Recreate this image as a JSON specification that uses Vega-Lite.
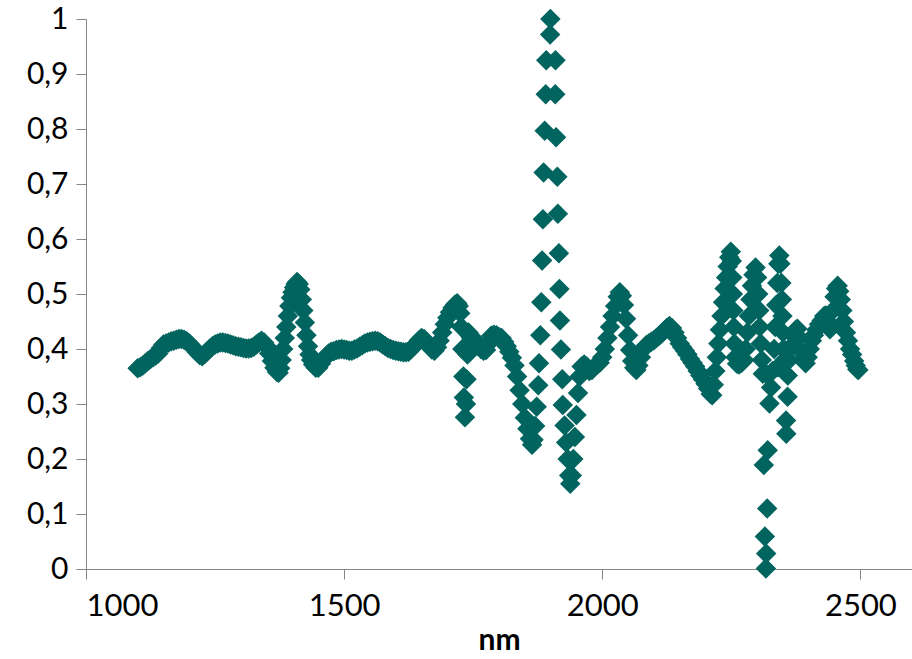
{
  "$schema": "https://vega.github.io/schema/vega-lite/v6.json",
  "width": 826,
  "height": 550,
  "autosize": {"type": "none"},
  "padding": {"left": 86, "top": 19, "right": 0, "bottom": 90},
  "background": "white",
  "config": {"view": {"stroke": null}},
  "data": {"values": [
    {"nm":1100,"r":0.365},{"nm":1105,"r":0.367},{"nm":1110,"r":0.37},{"nm":1115,"r":0.374},{"nm":1120,"r":0.378},{"nm":1125,"r":0.382},{"nm":1130,"r":0.385},{"nm":1135,"r":0.388},{"nm":1140,"r":0.392},{"nm":1145,"r":0.402},{"nm":1150,"r":0.408},{"nm":1155,"r":0.41},{"nm":1160,"r":0.412},{"nm":1165,"r":0.414},{"nm":1170,"r":0.415},{"nm":1175,"r":0.417},{"nm":1180,"r":0.418},{"nm":1185,"r":0.418},{"nm":1190,"r":0.417},{"nm":1195,"r":0.414},{"nm":1200,"r":0.41},{"nm":1205,"r":0.405},{"nm":1210,"r":0.4},{"nm":1215,"r":0.394},{"nm":1220,"r":0.389},{"nm":1225,"r":0.387},{"nm":1230,"r":0.391},{"nm":1235,"r":0.396},{"nm":1240,"r":0.401},{"nm":1245,"r":0.405},{"nm":1250,"r":0.408},{"nm":1255,"r":0.41},{"nm":1260,"r":0.412},{"nm":1265,"r":0.412},{"nm":1270,"r":0.411},{"nm":1275,"r":0.41},{"nm":1280,"r":0.408},{"nm":1285,"r":0.407},{"nm":1290,"r":0.405},{"nm":1295,"r":0.404},{"nm":1300,"r":0.403},{"nm":1305,"r":0.402},{"nm":1310,"r":0.401},{"nm":1315,"r":0.401},{"nm":1320,"r":0.402},{"nm":1325,"r":0.404},{"nm":1330,"r":0.408},{"nm":1335,"r":0.412},{"nm":1340,"r":0.415},{"nm":1345,"r":0.412},{"nm":1350,"r":0.405},{"nm":1355,"r":0.392},{"nm":1360,"r":0.378},{"nm":1365,"r":0.366},{"nm":1370,"r":0.358},{"nm":1373,"r":0.357},{"nm":1376,"r":0.365},{"nm":1379,"r":0.38},{"nm":1382,"r":0.4},{"nm":1385,"r":0.42},{"nm":1388,"r":0.44},{"nm":1391,"r":0.46},{"nm":1394,"r":0.478},{"nm":1397,"r":0.493},{"nm":1400,"r":0.503},{"nm":1403,"r":0.512},{"nm":1406,"r":0.518},{"nm":1409,"r":0.522},{"nm":1412,"r":0.518},{"nm":1415,"r":0.508},{"nm":1418,"r":0.49},{"nm":1421,"r":0.47},{"nm":1424,"r":0.448},{"nm":1427,"r":0.425},{"nm":1430,"r":0.405},{"nm":1433,"r":0.39},{"nm":1436,"r":0.38},{"nm":1440,"r":0.372},{"nm":1445,"r":0.366},{"nm":1450,"r":0.366},{"nm":1455,"r":0.373},{"nm":1460,"r":0.381},{"nm":1465,"r":0.387},{"nm":1470,"r":0.392},{"nm":1475,"r":0.395},{"nm":1480,"r":0.396},{"nm":1485,"r":0.398},{"nm":1490,"r":0.399},{"nm":1495,"r":0.4},{"nm":1500,"r":0.399},{"nm":1505,"r":0.398},{"nm":1510,"r":0.397},{"nm":1515,"r":0.397},{"nm":1520,"r":0.399},{"nm":1525,"r":0.401},{"nm":1530,"r":0.404},{"nm":1535,"r":0.407},{"nm":1540,"r":0.41},{"nm":1545,"r":0.412},{"nm":1550,"r":0.413},{"nm":1555,"r":0.414},{"nm":1560,"r":0.415},{"nm":1565,"r":0.414},{"nm":1570,"r":0.412},{"nm":1575,"r":0.408},{"nm":1580,"r":0.405},{"nm":1585,"r":0.402},{"nm":1590,"r":0.4},{"nm":1595,"r":0.398},{"nm":1600,"r":0.397},{"nm":1605,"r":0.396},{"nm":1610,"r":0.395},{"nm":1615,"r":0.394},{"nm":1620,"r":0.394},{"nm":1625,"r":0.395},{"nm":1630,"r":0.4},{"nm":1635,"r":0.405},{"nm":1640,"r":0.41},{"nm":1645,"r":0.416},{"nm":1650,"r":0.42},{"nm":1655,"r":0.418},{"nm":1660,"r":0.412},{"nm":1665,"r":0.405},{"nm":1670,"r":0.399},{"nm":1675,"r":0.397},{"nm":1680,"r":0.403},{"nm":1685,"r":0.415},{"nm":1690,"r":0.43},{"nm":1695,"r":0.445},{"nm":1700,"r":0.457},{"nm":1705,"r":0.467},{"nm":1710,"r":0.475},{"nm":1715,"r":0.481},{"nm":1719,"r":0.483},{"nm":1722,"r":0.478},{"nm":1725,"r":0.465},{"nm":1727,"r":0.44},{"nm":1729,"r":0.4},{"nm":1731,"r":0.35},{"nm":1732,"r":0.312},{"nm":1734,"r":0.276},{"nm":1736,"r":0.3},{"nm":1737,"r":0.345},{"nm":1739,"r":0.39},{"nm":1741,"r":0.43},{"nm":1743,"r":0.425},{"nm":1746,"r":0.42},{"nm":1750,"r":0.417},{"nm":1755,"r":0.415},{"nm":1760,"r":0.408},{"nm":1765,"r":0.4},{"nm":1770,"r":0.397},{"nm":1775,"r":0.398},{"nm":1780,"r":0.41},{"nm":1785,"r":0.424},{"nm":1790,"r":0.426},{"nm":1795,"r":0.425},{"nm":1800,"r":0.422},{"nm":1805,"r":0.42},{"nm":1810,"r":0.413},{"nm":1815,"r":0.405},{"nm":1820,"r":0.395},{"nm":1825,"r":0.384},{"nm":1830,"r":0.37},{"nm":1835,"r":0.35},{"nm":1840,"r":0.325},{"nm":1845,"r":0.3},{"nm":1850,"r":0.275},{"nm":1855,"r":0.255},{"nm":1860,"r":0.237},{"nm":1864,"r":0.226},{"nm":1867,"r":0.235},{"nm":1870,"r":0.26},{"nm":1873,"r":0.295},{"nm":1876,"r":0.334},{"nm":1877.5,"r":0.374},{"nm":1880,"r":0.425},{"nm":1882,"r":0.485},{"nm":1883.5,"r":0.561},{"nm":1885,"r":0.636},{"nm":1886.5,"r":0.721},{"nm":1888.5,"r":0.797},{"nm":1890.5,"r":0.863},{"nm":1891.5,"r":0.925},{"nm":1899,"r":0.972},{"nm":1899.5,"r":1.0},{"nm":1909.5,"r":0.925},{"nm":1909,"r":0.863},{"nm":1910.5,"r":0.785},{"nm":1913,"r":0.713},{"nm":1914,"r":0.646},{"nm":1916,"r":0.574},{"nm":1917,"r":0.509},{"nm":1918,"r":0.452},{"nm":1920,"r":0.399},{"nm":1922.5,"r":0.345},{"nm":1923.5,"r":0.298},{"nm":1927,"r":0.261},{"nm":1930,"r":0.23},{"nm":1933,"r":0.2},{"nm":1936,"r":0.17},{"nm":1938,"r":0.155},{"nm":1941,"r":0.17},{"nm":1944,"r":0.2},{"nm":1947,"r":0.24},{"nm":1950,"r":0.28},{"nm":1953,"r":0.32},{"nm":1956,"r":0.35},{"nm":1960,"r":0.368},{"nm":1965,"r":0.372},{"nm":1970,"r":0.368},{"nm":1975,"r":0.36},{"nm":1980,"r":0.362},{"nm":1985,"r":0.368},{"nm":1990,"r":0.372},{"nm":1995,"r":0.375},{"nm":2000,"r":0.385},{"nm":2005,"r":0.4},{"nm":2010,"r":0.42},{"nm":2015,"r":0.44},{"nm":2020,"r":0.46},{"nm":2025,"r":0.478},{"nm":2030,"r":0.495},{"nm":2034,"r":0.503},{"nm":2038,"r":0.497},{"nm":2042,"r":0.48},{"nm":2046,"r":0.455},{"nm":2050,"r":0.425},{"nm":2054,"r":0.398},{"nm":2058,"r":0.378},{"nm":2062,"r":0.366},{"nm":2066,"r":0.362},{"nm":2070,"r":0.37},{"nm":2075,"r":0.385},{"nm":2080,"r":0.4},{"nm":2085,"r":0.407},{"nm":2090,"r":0.41},{"nm":2095,"r":0.413},{"nm":2100,"r":0.416},{"nm":2105,"r":0.42},{"nm":2110,"r":0.424},{"nm":2115,"r":0.428},{"nm":2120,"r":0.433},{"nm":2125,"r":0.438},{"nm":2130,"r":0.442},{"nm":2135,"r":0.438},{"nm":2140,"r":0.43},{"nm":2145,"r":0.42},{"nm":2150,"r":0.41},{"nm":2155,"r":0.403},{"nm":2160,"r":0.397},{"nm":2165,"r":0.39},{"nm":2170,"r":0.382},{"nm":2175,"r":0.375},{"nm":2180,"r":0.368},{"nm":2185,"r":0.36},{"nm":2190,"r":0.352},{"nm":2195,"r":0.345},{"nm":2200,"r":0.337},{"nm":2205,"r":0.328},{"nm":2210,"r":0.318},{"nm":2213,"r":0.316},{"nm":2216,"r":0.335},{"nm":2219,"r":0.36},{"nm":2222,"r":0.385},{"nm":2225,"r":0.41},{"nm":2228,"r":0.435},{"nm":2231,"r":0.46},{"nm":2234,"r":0.485},{"nm":2237,"r":0.51},{"nm":2240,"r":0.53},{"nm":2243,"r":0.55},{"nm":2246,"r":0.567},{"nm":2249,"r":0.577},{"nm":2251,"r":0.56},{"nm":2252,"r":0.53},{"nm":2253,"r":0.5},{"nm":2254,"r":0.47},{"nm":2255,"r":0.44},{"nm":2256,"r":0.41},{"nm":2258,"r":0.385},{"nm":2261,"r":0.373},{"nm":2265,"r":0.372},{"nm":2270,"r":0.375},{"nm":2275,"r":0.38},{"nm":2278,"r":0.4},{"nm":2281,"r":0.43},{"nm":2284,"r":0.46},{"nm":2287,"r":0.49},{"nm":2290,"r":0.515},{"nm":2293,"r":0.535},{"nm":2297,"r":0.548},{"nm":2300,"r":0.53},{"nm":2302,"r":0.5},{"nm":2304,"r":0.47},{"nm":2305,"r":0.44},{"nm":2307,"r":0.41},{"nm":2309,"r":0.38},{"nm":2311,"r":0.355},{"nm":2313,"r":0.189},{"nm":2315,"r":0.059},{"nm":2317,"r":0.001},{"nm":2317.5,"r":0.028},{"nm":2319.5,"r":0.11},{"nm":2320.5,"r":0.216},{"nm":2324,"r":0.301},{"nm":2317.2,"r":0.355},{"nm":2327,"r":0.33},{"nm":2330,"r":0.36},{"nm":2333,"r":0.4},{"nm":2335,"r":0.44},{"nm":2337,"r":0.48},{"nm":2339,"r":0.52},{"nm":2341,"r":0.555},{"nm":2343,"r":0.57},{"nm":2345,"r":0.555},{"nm":2347,"r":0.52},{"nm":2348,"r":0.49},{"nm":2349,"r":0.46},{"nm":2350,"r":0.43},{"nm":2351,"r":0.4},{"nm":2353,"r":0.38},{"nm":2340,"r":0.367},{"nm":2356,"r":0.27},{"nm":2356.5,"r":0.246},{"nm":2359,"r":0.313},{"nm":2359.5,"r":0.352},{"nm":2362,"r":0.38},{"nm":2366,"r":0.405},{"nm":2370,"r":0.425},{"nm":2375,"r":0.435},{"nm":2378,"r":0.437},{"nm":2382,"r":0.42},{"nm":2386,"r":0.395},{"nm":2390,"r":0.38},{"nm":2394,"r":0.374},{"nm":2398,"r":0.385},{"nm":2402,"r":0.4},{"nm":2406,"r":0.415},{"nm":2410,"r":0.425},{"nm":2415,"r":0.435},{"nm":2420,"r":0.445},{"nm":2425,"r":0.452},{"nm":2430,"r":0.46},{"nm":2433,"r":0.461},{"nm":2437,"r":0.45},{"nm":2441,"r":0.436},{"nm":2444,"r":0.44},{"nm":2447,"r":0.47},{"nm":2450,"r":0.495},{"nm":2453,"r":0.51},{"nm":2456,"r":0.515},{"nm":2459,"r":0.505},{"nm":2462,"r":0.49},{"nm":2465,"r":0.47},{"nm":2468,"r":0.45},{"nm":2472,"r":0.43},{"nm":2476,"r":0.415},{"nm":2480,"r":0.4},{"nm":2484,"r":0.39},{"nm":2488,"r":0.378},{"nm":2491,"r":0.37},{"nm":2494,"r":0.363},{"nm":2496,"r":0.362}
  ]},
  "mark": {"type": "point", "shape": "diamond", "filled": true, "size": 420, "opacity": 1, "color": "#01645F", "clip": false},
  "encoding": {
    "x": {
      "field": "nm", "type": "quantitative",
      "scale": {"domain": [1000, 2600], "nice": false, "zero": false},
      "axis": {
        "title": "nm", "values": [1000, 1500, 2000, 2500], "format": "d",
        "grid": false, "domainColor": "#868686", "tickColor": "#868686", "tickSize": 10,
        "labelFont": "Lato", "labelFontSize": 31, "labelColor": "#000000", "labelPadding": 12,
        "titleFont": "Lato", "titleFontSize": 30, "titleFontWeight": "bold", "titleColor": "#000000", "titlePadding": 4
      }
    },
    "y": {
      "field": "r", "type": "quantitative",
      "scale": {"domain": [0, 1], "nice": false},
      "axis": {
        "title": null, "values": [0, 0.1, 0.2, 0.3, 0.4, 0.5, 0.6, 0.7, 0.8, 0.9, 1],
        "format": ".1~f", "labelExpr": "replace(datum.label, '.', ',')",
        "grid": false, "domainColor": "#868686", "tickColor": "#868686", "tickSize": 10,
        "labelFont": "Lato", "labelFontSize": 30, "labelColor": "#000000", "labelPadding": 8
      }
    }
  }
}
